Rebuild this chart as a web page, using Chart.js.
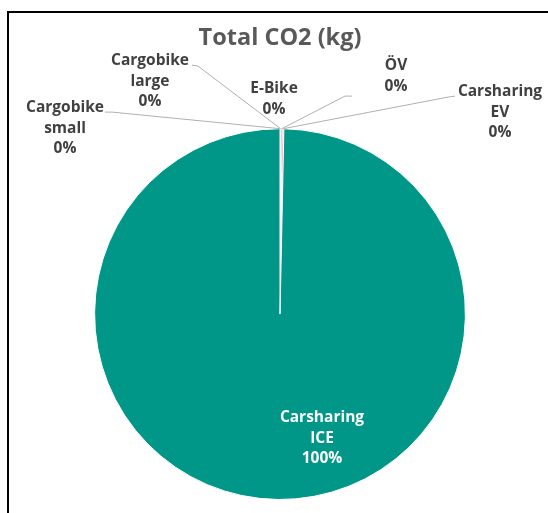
<!DOCTYPE html>
<html>
<head>
<meta charset="utf-8">
<script src="https://cdn.jsdelivr.net/npm/chart.js@4/dist/chart.umd.min.js"></script>
<style>
    html, body { margin: 0; padding: 0; background: #fff; }
    #wrap { position: relative; width: 548px; height: 513px; overflow: hidden; }
    #frame { position: absolute; left: 7px; top: 11px; width: 700px; height: 700px;
             border-left: 2px solid #000; border-top: 2px solid #000; }
    canvas { position: absolute; left: 0; top: 0; }
</style>
</head>
<body>
<div id="wrap">
    <div id="frame"></div>
    <canvas id="pie" width="548" height="513"></canvas>
</div>
<script>
(function() {
    // Data (all small modes round to 0%)
    const categories = ['Cargobike small', 'Cargobike large', 'E-Bike', 'ÖV', 'Carsharing EV', 'Carsharing ICE'];
    const labelLines = [['Cargobike', 'small'], ['Cargobike', 'large'], ['E-Bike'], ['ÖV'], ['Carsharing', 'EV'], ['Carsharing', 'ICE']];
    const co2Values = [0.5, 0.6, 0.4, 1.6, 2.0, 1520];
    const colors = ['#8bc34a', '#ffc107', '#03a9f4', '#9c27b0', '#f44336', '#009688'];

    // Label placement, pixels relative to pie centre
    // c: text centre, a: leader start, e: leader elbow (null = no leader)
    const labelLayout = [
        { c: [-215, -186], a: [-175, -202], e: [-168, -202] },
        { c: [-130, -233], a: [-88, -249], e: [-82, -248] },
        { c: [-6, -215], a: null, e: null },
        { c: [116, -238], a: [72, -218], e: [65, -218] },
        { c: [220, -202], a: [175, -218], e: [168, -217] },
        { c: [42, 124], a: null, e: null }
    ];
    const total = co2Values.reduce((s, v) => s + v, 0);

    const pieLabels = {
        id: 'pieLabels',
        afterDatasetsDraw(chart) {
            const ctx = chart.ctx;
            const arcs = chart.getDatasetMeta(0).data;
            ctx.save();
            ctx.font = 'bold 15.5px "Open Sans"';
            ctx.textAlign = 'center';
            ctx.textBaseline = 'middle';
            arcs.forEach((arc, i) => {
                const lay = labelLayout[i];
                const cx = arc.x, cy = arc.y;
                if (lay.a) {
                    const mid = (arc.startAngle + arc.endAngle) / 2;
                    const ex = cx + Math.cos(mid) * arc.outerRadius;
                    const ey = cy + Math.sin(mid) * arc.outerRadius;
                    ctx.strokeStyle = '#b0b0b0';
                    ctx.lineWidth = 1;
                    ctx.beginPath();
                    ctx.moveTo(cx + lay.a[0], cy + lay.a[1]);
                    ctx.lineTo(cx + lay.e[0], cy + lay.e[1]);
                    ctx.lineTo(ex, ey);
                    ctx.stroke();
                }
                const pct = Math.round(co2Values[i] / total * 100) + '%';
                const lines = labelLines[i].concat([pct]);
                const lh = 20.5;
                const y0 = cy + lay.c[1] - (lines.length - 1) * lh / 2;
                ctx.fillStyle = i === 5 ? '#ffffff' : '#404040';
                lines.forEach((t, k) => ctx.fillText(t, cx + lay.c[0], y0 + k * lh));
            });
            ctx.restore();
        }
    };

    new Chart(document.getElementById('pie'), {
        type: 'pie',
        data: {
            labels: categories,
            datasets: [{
                data: co2Values,
                backgroundColor: colors,
                borderColor: '#ffffff',
                borderWidth: 1
            }]
        },
        options: {
            responsive: false,
            animation: false,
            layout: { padding: { left: 94, right: 82, top: 0, bottom: 13 } },
            plugins: {
                legend: { display: false },
                tooltip: { enabled: false },
                title: {
                    display: true,
                    text: 'Total CO2 (kg)',
                    color: '#595959',
                    font: { family: '"Open Sans"', size: 23.5, weight: 'bold', lineHeight: 1.2 },
                    padding: { top: 24, bottom: 76 }
                }
            }
        },
        plugins: [pieLabels]
    });
}());
</script>
</body>
</html>
